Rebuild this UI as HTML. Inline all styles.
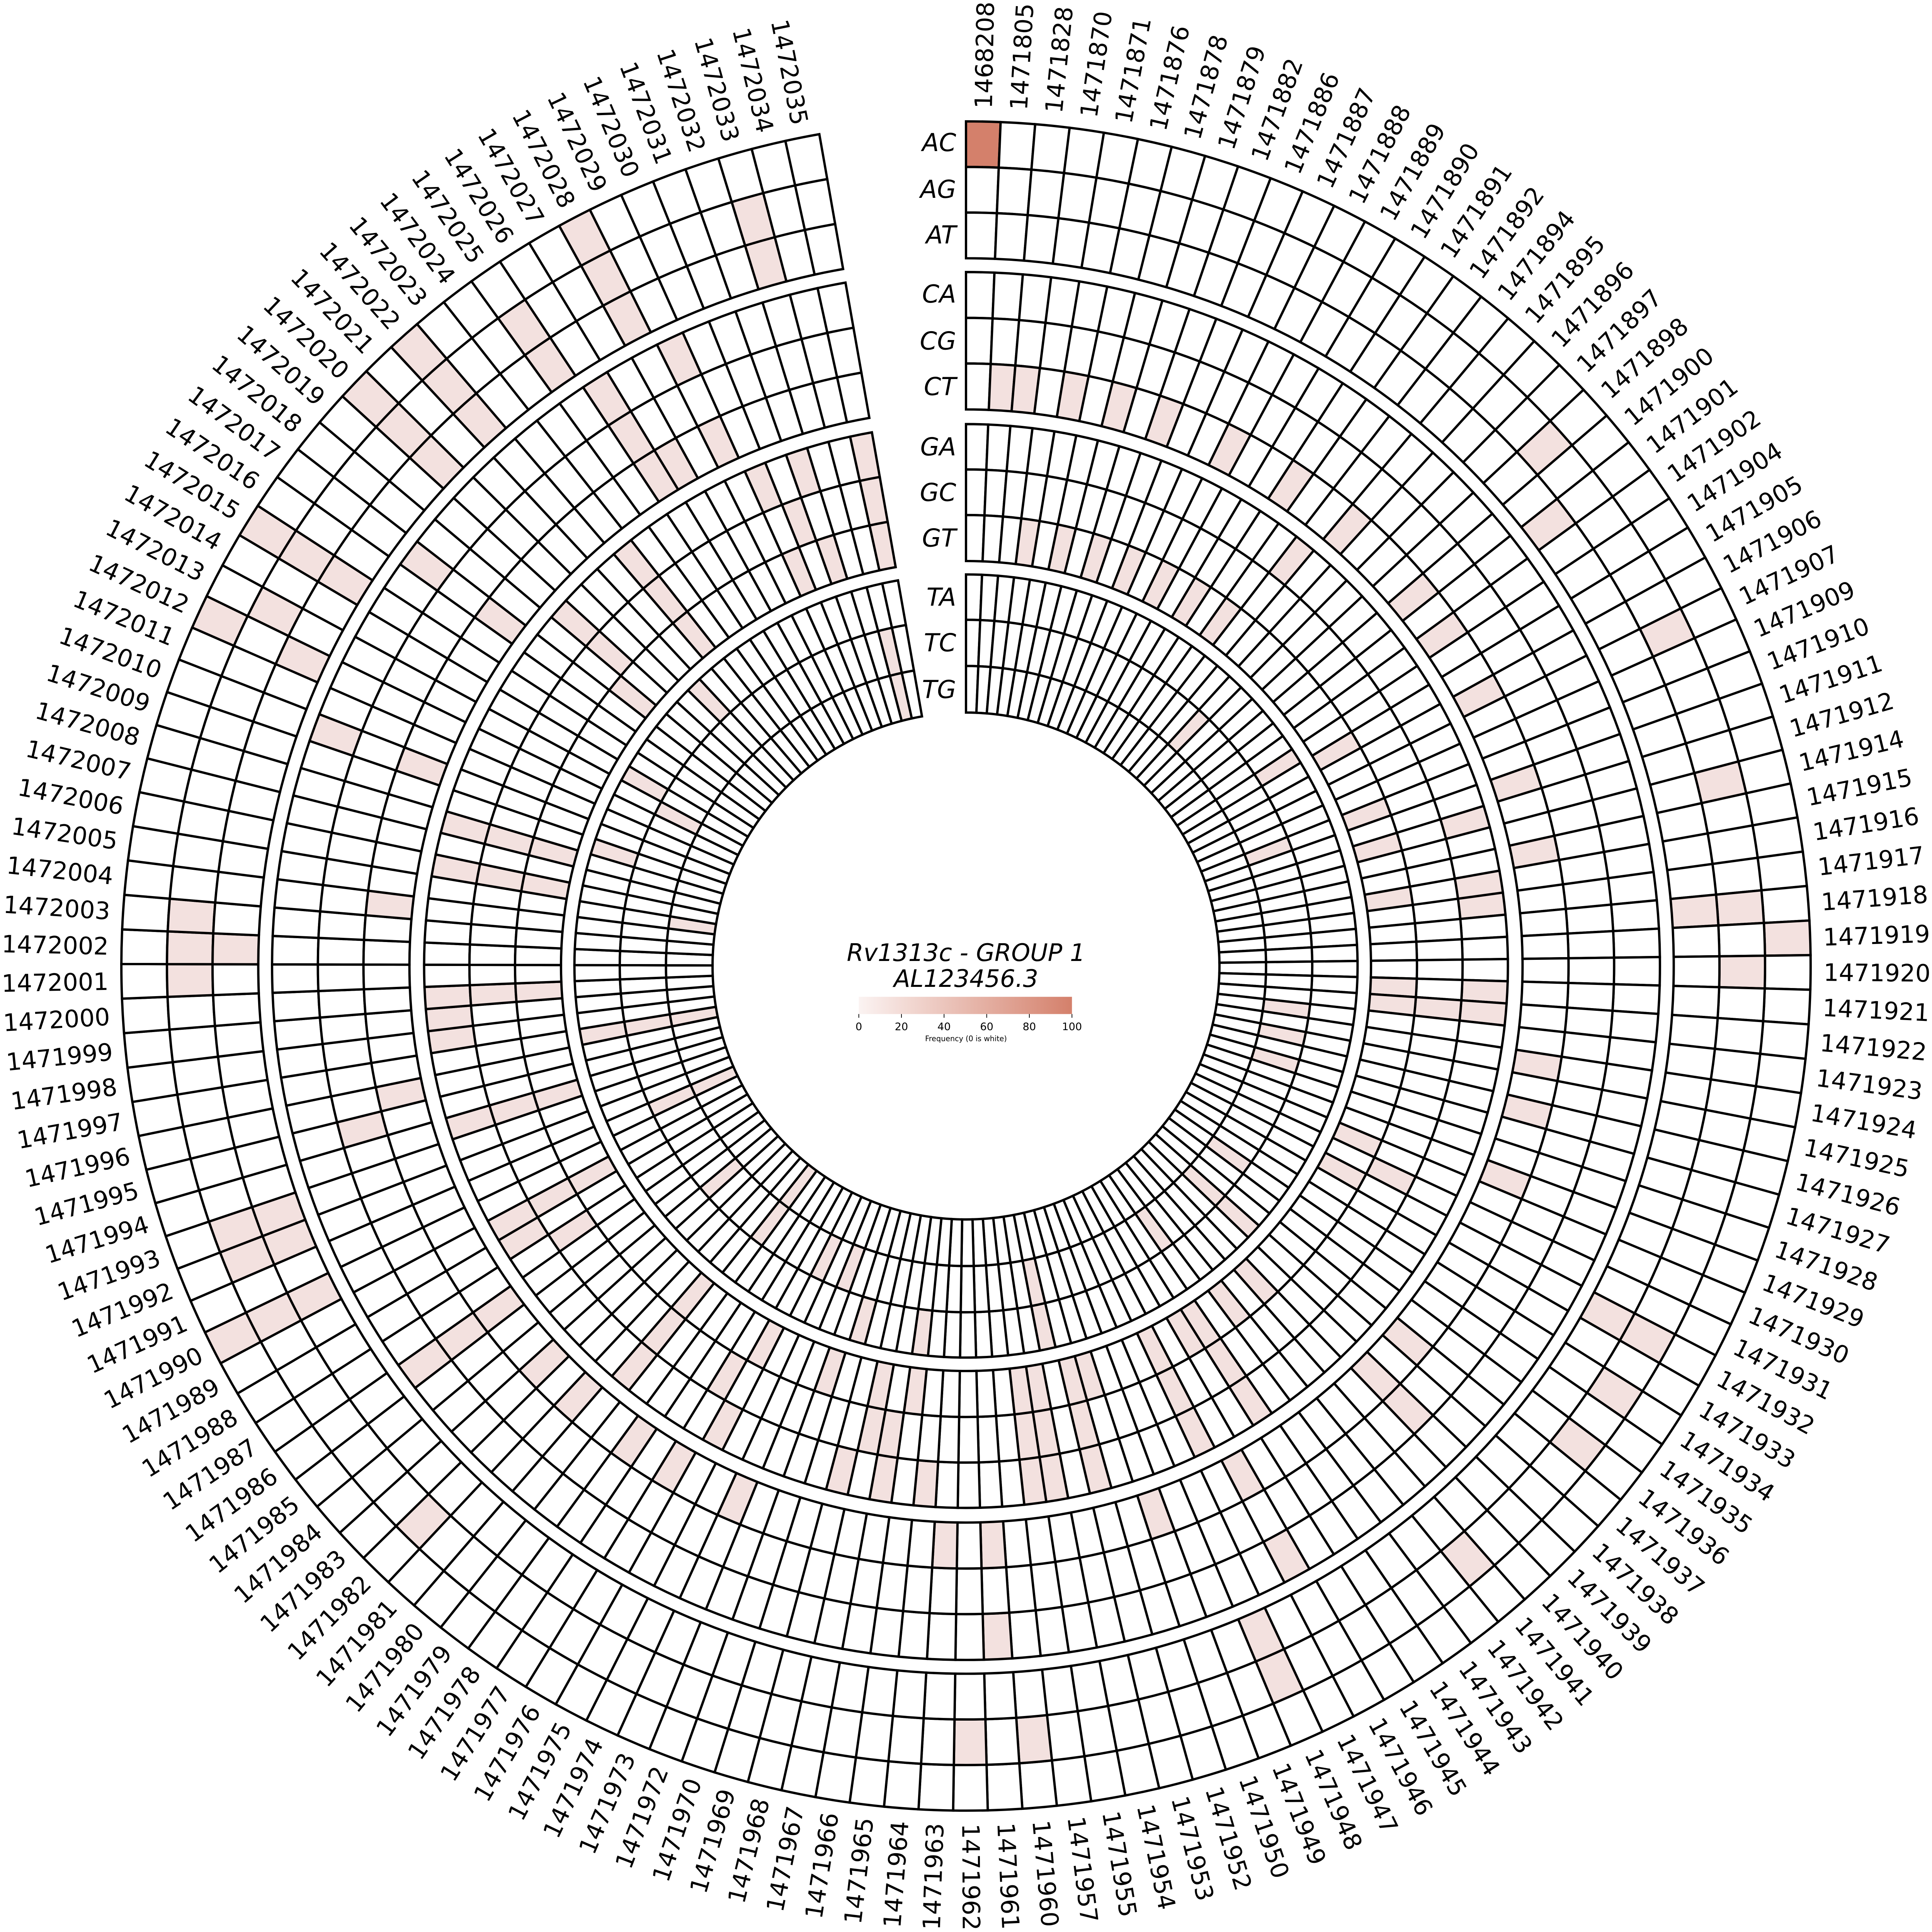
<!DOCTYPE html>
<html><head><meta charset="utf-8">
<style>
html,body{margin:0;padding:0;background:#fff;overflow:hidden;}
svg{display:block;width:100vw;height:100vw;}
text{font-family:"DejaVu Sans","Liberation Sans",sans-serif;fill:#000;}
</style></head>
<body>
<svg id="s" xmlns="http://www.w3.org/2000/svg" viewBox="0 0 1568 1568" preserveAspectRatio="xMinYMin meet">
<rect width="1568" height="1568" fill="#fff"/>
<defs><linearGradient id="cb" x1="0" x2="1" y1="0" y2="0"><stop offset="0" stop-color="#fbf3f2"/><stop offset="1" stop-color="#d4806b"/></linearGradient></defs>
<g id="cells"></g>
<g id="labs"></g>
<g font-style="italic" font-size="20" text-anchor="end">
<text x="776" y="116" dominant-baseline="central">AC</text>
<text x="776" y="154" dominant-baseline="central">AG</text>
<text x="776" y="191" dominant-baseline="central">AT</text>
<text x="776" y="239" dominant-baseline="central">CA</text>
<text x="776" y="277" dominant-baseline="central">CG</text>
<text x="776" y="314" dominant-baseline="central">CT</text>
<text x="776" y="363" dominant-baseline="central">GA</text>
<text x="776" y="400" dominant-baseline="central">GC</text>
<text x="776" y="437" dominant-baseline="central">GT</text>
<text x="776" y="485" dominant-baseline="central">TA</text>
<text x="776" y="522" dominant-baseline="central">TC</text>
<text x="776" y="560" dominant-baseline="central">TG</text>
</g>
<text x="784" y="780" font-size="19.5" font-style="italic" text-anchor="middle">Rv1313c - GROUP 1</text>
<text x="784" y="801" font-size="19.5" font-style="italic" text-anchor="middle">AL123456.3</text>
<rect x="697" y="809" width="173" height="14" fill="url(#cb)"/>
<g stroke="#000" stroke-width="0.6">
<line x1="697" y1="823" x2="697" y2="826"/><line x1="731.6" y1="823" x2="731.6" y2="826"/><line x1="766.2" y1="823" x2="766.2" y2="826"/><line x1="800.8" y1="823" x2="800.8" y2="826"/><line x1="835.4" y1="823" x2="835.4" y2="826"/><line x1="870" y1="823" x2="870" y2="826"/>
</g>
<g font-size="8.5" text-anchor="middle">
<text x="697" y="836">0</text><text x="731.6" y="836">20</text><text x="766.2" y="836">40</text><text x="800.8" y="836">60</text><text x="835.4" y="836">80</text><text x="870" y="836">100</text>
</g>
<text x="784" y="845" font-size="6" text-anchor="middle">Frequency (0 is white)</text>
</svg>
<script>
(function(){
var C=784,S=350/149;
var radii=[[648.5,685.5],[611.5,648.5],[574.4,611.5],[526,563.2],[489,526],[451.7,489],[403,439.8],[366,403],[328.7,366],[281,317.8],[243.5,281],[205.7,243.5]];
var labels=["1468208","1471805","1471828","1471870","1471871","1471876","1471878","1471879","1471882","1471886","1471887","1471888","1471889","1471890","1471891","1471892","1471894","1471895","1471896","1471897","1471898","1471900","1471901","1471902","1471904","1471905","1471906","1471907","1471909","1471910","1471911","1471912","1471914","1471915","1471916","1471917","1471918","1471919","1471920","1471921","1471922","1471923","1471924","1471925","1471926","1471927","1471928","1471929","1471930","1471931","1471932","1471933","1471934","1471935","1471936","1471937","1471938","1471939","1471940","1471941","1471942","1471943","1471944","1471945","1471946","1471947","1471948","1471949","1471950","1471952","1471953","1471954","1471955","1471957","1471960","1471961","1471962","1471963","1471964","1471965","1471966","1471967","1471968","1471969","1471970","1471972","1471973","1471974","1471975","1471976","1471977","1471978","1471979","1471980","1471981","1471982","1471983","1471984","1471985","1471986","1471987","1471988","1471989","1471990","1471991","1471992","1471993","1471994","1471995","1471996","1471997","1471998","1471999","1472000","1472001","1472002","1472003","1472004","1472005","1472006","1472007","1472008","1472009","1472010","1472011","1472012","1472013","1472014","1472015","1472016","1472017","1472018","1472019","1472020","1472021","1472022","1472023","1472024","1472025","1472026","1472027","1472028","1472029","1472030","1472031","1472032","1472033","1472034","1472035"];
var fill={};
function add(X0,Y0,pts){
  pts.forEach(function(p){
    var x=(X0+p[0]*3100/1568)*1568/6766, y=(Y0+p[1]*3100/1568)*1568/6766;
    var dx=x-C, dy=C-y, r=Math.sqrt(dx*dx+dy*dy);
    var th=Math.atan2(dx,dy)*180/Math.PI; if(th<0) th+=360;
    var col=Math.floor(th/S); if(col>148) return;
    var best=-1,bd=1e9;
    for(var i=0;i<12;i++){var m=(radii[i][0]+radii[i][1])/2,d=Math.abs(r-m);if(d<bd){bd=d;best=i;}}
    if(bd<25) fill[best+","+col]=1;
  });
}
add(3383,300,[[61,535],[103,540],[187,550],[270,570],[350,590],[465,645],[575,710],[680,785],[795,905],[845,970],[905,1078],[975,1235],[1005,1358],[1022,640],[1030,775],[1240,970],[1340,1235],[1290,1455],[1370,1455],[1455,1505],[905,1412],[912,1450],[900,1318],[118,810],[172,818],[228,832],[290,850],[345,880],[400,910],[455,945],[578,845],[400,1150],[555,1210],[652,1172],[700,1285],[725,1340],[750,1440],[530,1355]]);
add(3383,3383,[[1375,15],[755,35],[755,75],[915,40],[915,80],[835,75],[560,70],[555,125],[540,170],[1010,175],[990,255],[955,375],[690,310],[750,360],[650,370],[465,345],[410,390],[475,445],[340,470],[785,665],[725,710],[785,785],[1130,620],[1210,640],[1150,750],[1085,850],[890,1045],[515,1195],[530,1265],[120,1370],[15,1370],[45,1185],[45,1025],[335,965],[570,1035],[490,900],[410,840],[330,680],[378,640],[410,615],[455,590],[510,560],[370,760],[445,700],[500,760],[100,755],[130,750],[182,740],[215,725],[105,830],[140,825],[222,818],[115,908],[155,905],[232,892],[115,560],[137,635]]);
add(283,3383,[[195,20],[650,50],[735,50],[812,45],[655,90],[660,130],[925,118],[1005,105],[1082,90],[570,232],[500,275],[690,275],[770,250],[845,225],[1050,245],[1120,200],[350,430],[365,490],[275,470],[295,525],[270,655],[340,620],[415,585],[607,980],[615,700],[675,655],[740,610],[820,705],[880,760],[985,860],[1040,880],[1160,940],[765,455],[840,415],[910,380],[780,505],[865,480],[980,705],[1040,650],[1085,585],[1140,780],[1200,670],[1150,730],[1340,720],[1415,745],[1480,755],[1350,890],[1400,830],[1420,905],[1495,910],[1432,825],[1120,380],[1230,430],[1275,400],[1320,520],[1365,540],[1385,625],[1495,640],[1530,1020],[1560,1370]]);
add(283,300,[[878,260],[915,340],[970,410],[1188,235],[1212,315],[775,425],[830,495],[590,465],[645,540],[690,595],[510,550],[565,610],[630,665],[330,790],[390,835],[470,875],[245,945],[325,945],[395,1005],[195,1470],[195,1530],[275,1530],[1060,475],[932,545],[980,610],[1020,675],[1065,660],[1140,620],[610,855],[745,960],[450,1150],[610,1205],[550,1450],[1215,700],[1268,690],[1390,655],[1405,740],[1420,815],[1270,845],[1325,830],[1285,770],[975,825],[1035,900],[1070,960],[870,950],[915,1005],[985,1070],[680,1315],[760,1335],[840,1360],[670,1390],[750,1395],[830,1415],[1140,1120],[1435,1000],[1458,1080],[1000,1250],[1080,1300],[950,1360],[1050,1475]]);
function pt(r,a){var t=a*Math.PI/180;return (C+r*Math.sin(t)).toFixed(2)+","+(C-r*Math.cos(t)).toFixed(2);}
var g=document.getElementById("cells"),html="";
for(var i=0;i<12;i++){
  var ri=radii[i][0],ro=radii[i][1];
  for(var c=0;c<149;c++){
    var a0=c*S,a1=(c+1)*S;
    var f="#ffffff";
    if(fill[i+","+c]) f="#f3e1df";
    if(i==0&&c==0) f="#d4806b";
    html+='<path d="M'+pt(ro,a0)+' A'+ro+','+ro+' 0 0 1 '+pt(ro,a1)+' L'+pt(ri,a1)+' A'+ri+','+ri+' 0 0 0 '+pt(ri,a0)+' Z" fill="'+f+'" stroke="#000" stroke-width="1.9"/>';
  }
}
g.innerHTML=html;
var L=document.getElementById("labs"),h2="";
for(var c=0;c<149;c++){
  var a=(c+0.5)*S,t=a*Math.PI/180,r=696;
  var x=C+r*Math.sin(t),y=C-r*Math.cos(t);
  var rot=a<180?(a-90):(a+90), anc=a<180?"start":"end";
  h2+='<text x="'+x.toFixed(2)+'" y="'+y.toFixed(2)+'" font-size="19.5" text-anchor="'+anc+'" dominant-baseline="central" transform="rotate('+rot.toFixed(3)+' '+x.toFixed(2)+' '+y.toFixed(2)+')">'+labels[c]+'</text>';
}
L.innerHTML=h2;
})();
</script>
</body></html>
